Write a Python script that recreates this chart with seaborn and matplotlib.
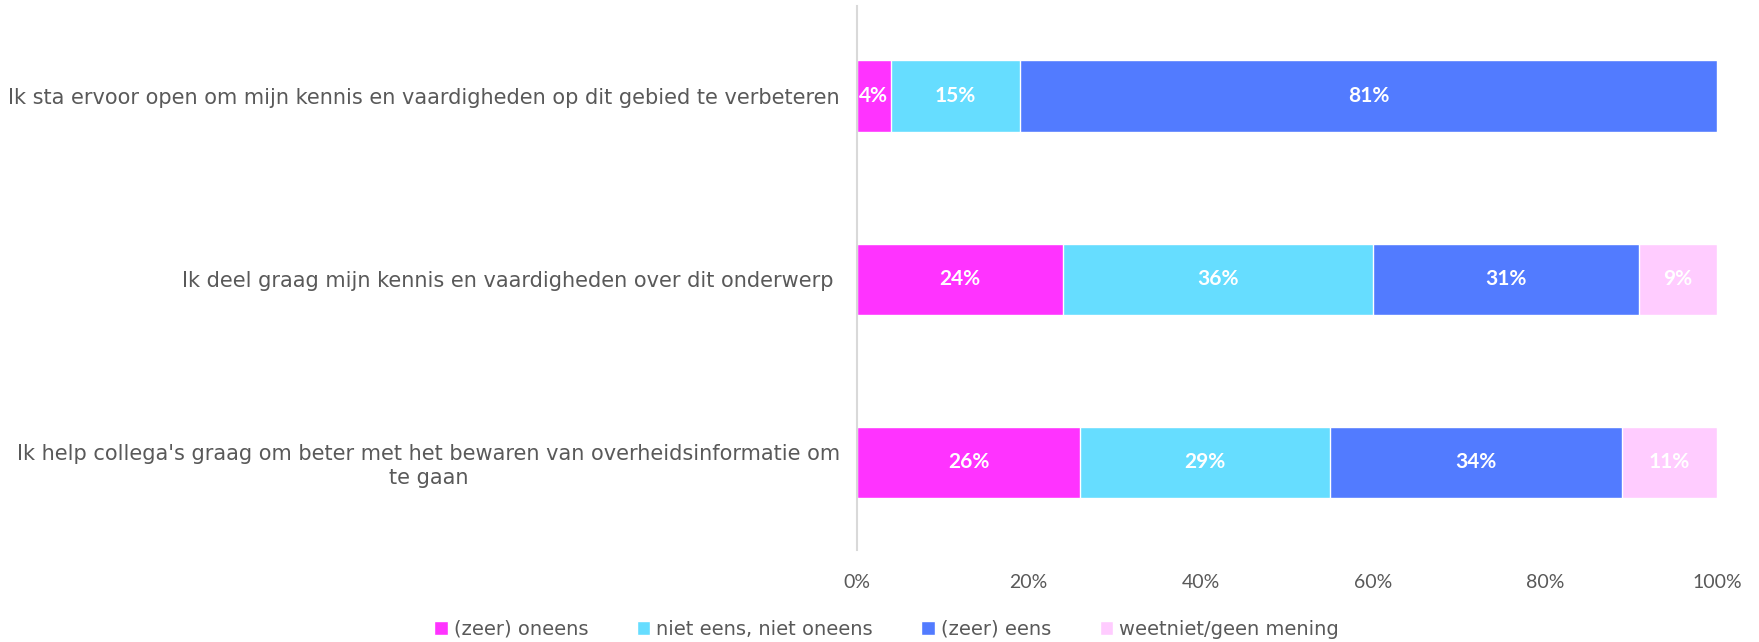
import numpy as np
import pandas as pd
import matplotlib.pyplot as plt
import seaborn as sns

# chart data
statements = [
    "Ik sta ervoor open om mijn kennis en vaardigheden op dit gebied te verbeteren",
    "Ik deel graag mijn kennis en vaardigheden over dit onderwerp ",
    "Ik help collega's graag om beter met het bewaren van overheidsinformatie om\nte gaan",
]
categories = ["(zeer) oneens", "niet eens, niet oneens", "(zeer) eens", "weetniet/geen mening"]
oneens = [4, 24, 26]
neutraal = [15, 36, 29]
eens = [81, 31, 34]
weetniet = [0, 9, 11]
colors = ["#FF33FF", "#66DDFF", "#527BFF", "#FFCCFF"]
x_ticks = [0, 20, 40, 60, 80, 100]

sns.set_style("white")
plt.rcParams["font.family"] = ["Lato", "DejaVu Sans"]
text_color = "#595959"
wide_font = "DejaVu Sans"

series = [oneens, neutraal, eens, weetniet]
cum = np.cumsum(np.array(series), axis=0)

fig = plt.figure(figsize=(17.59, 6.42), dpi=100)
ax = fig.add_axes([0.487, 0.143, 0.489, 0.847])

# draw cumulative layers back to front so they stack
for i in reversed(range(len(categories))):
    df = pd.DataFrame({"statement": statements, "value": cum[i]})
    sns.barplot(data=df, x="value", y="statement", orient="h", color=colors[i],
                width=0.39, saturation=1, ax=ax, label=categories[i])

# segment labels
for i in range(len(categories)):
    for j in range(len(statements)):
        v = series[i][j]
        if v == 0:
            continue
        mid = cum[i][j] - v / 2
        ax.text(mid, j, f"{v}%", ha="center", va="center", color="white",
                fontsize=15, fontweight="bold")

ax.set_xlim(0, 100)
ax.set_ylim(2.48, -0.49)
ax.set_xticks(x_ticks)
ax.set_xticklabels([f"{t}%" for t in x_ticks], fontsize=14, color=text_color)
ax.tick_params(axis="x", length=0, pad=17)
ax.tick_params(axis="y", length=0, pad=12)
for lbl in ax.get_yticklabels():
    lbl.set_fontsize(15)
    lbl.set_family(wide_font)
    lbl.set_color(text_color)
    lbl.set_multialignment("center")
ax.set_xlabel("")
ax.set_ylabel("")
for s in ["top", "right", "bottom"]:
    ax.spines[s].set_visible(False)
ax.spines["left"].set_color("#D9D9D9")
ax.spines["left"].set_linewidth(1.5)

# legend in original order
handles, labels = ax.get_legend_handles_labels()
order = [labels.index(c) for c in categories]
if ax.legend_:
    ax.legend_.remove()
fig.legend([handles[k] for k in order], categories, loc="lower center",
           bbox_to_anchor=(0.504, -0.022), ncol=4, frameon=False,
           prop={"family": wide_font, "size": 14},
           handlelength=0.7, handleheight=0.7, handletextpad=0.3, columnspacing=2.5,
           labelcolor=text_color)

plt.savefig("out.png", dpi=100)
plt.close()
